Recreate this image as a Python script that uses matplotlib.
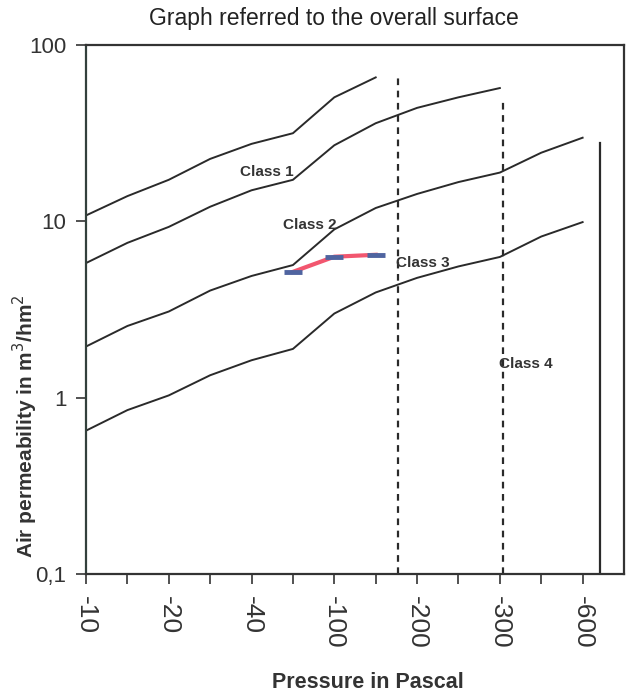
import matplotlib
matplotlib.use("Agg")
import matplotlib.pyplot as plt

plt.rcParams['font.family'] = ['Liberation Sans', 'DejaVu Sans']

# x positions are evenly spaced categories (pressure steps in Pa)
pressures = ['-10', '-15', '-20', '-30', '-40', '-50', '-100', '-150',
             '-200', '-250', '-300', '-450', '-600']
tick_labels = ['-10', '-20', '-40', '-100', '-200', '-300', '-600']

# class boundary lines, m3/hm2
class1 = [10.8, 13.9, 17.2, 22.6, 27.5, 31.6, 50.5, 65.5]
class2 = [5.8, 7.55, 9.3, 12.1, 15.0, 17.2, 27.0, 36.0, 44.0, 50.5, 57.0]
class3 = [1.95, 2.55, 3.08, 4.05, 4.9, 5.65, 9.0, 11.9, 14.3, 16.7, 18.9, 24.5, 29.8]
class4 = [0.65, 0.85, 1.03, 1.34, 1.63, 1.89, 3.0, 3.95, 4.78, 5.55, 6.28, 8.2, 9.9]

# measured sample (indices 5..7)
sample_idx = [5, 6, 7]
sample_val = [5.17, 6.3, 6.46]

# vertical limit lines: (x index, top value, style)
limits = [(7.53, 65, '--'), (10.08, 48.8, '--'), (12.41, 27.8, '-')]

class_labels = ['Class 1', 'Class 2', 'Class 3', 'Class 4']
label_pos = [(4.37, 19.1), (5.4, 9.55), (8.15, 5.82), (10.63, 1.56)]

fig = plt.figure(figsize=(6.27, 6.95), dpi=100)
ax = fig.add_axes([86/627, 121/695, 538/627, 529/695])

lc = '#2a2a2a'
for vals in [class1, class2, class3, class4]:
    ax.plot(range(len(vals)), vals, color=lc, lw=1.4)

for x, top, ls in limits:
    ax.plot([x, x], [0.1, top], color=lc, lw=1.6, ls=ls,
            dashes=(3, 2.5) if ls == '--' else (None, None))

ax.plot(sample_idx, sample_val, color='#f2566f', lw=3, zorder=3)
ax.plot(sample_idx, sample_val, ls='none', marker='_', ms=13, mew=3.5,
        color='#4f64a0', zorder=4)

for txt, (x, y) in zip(class_labels, label_pos):
    ax.text(x, y, txt, ha='center', va='center', fontsize=11,
            fontweight='bold', color='#333333')

ax.set_yscale('log')
ax.set_ylim(0.1, 100)
ax.set_xlim(0, 13)
ax.set_yticks([0.1, 1, 10, 100])
ax.set_yticklabels(['0,1', '1', '10', '100'])
ax.minorticks_off()
ax.set_xticks(range(len(pressures)))
ax.set_xticklabels([p if p in tick_labels else '' for p in pressures],
                   rotation=-90)
ax.tick_params(axis='both', length=7, width=1.2, colors='#333333')
ax.tick_params(axis='y', labelsize=16, pad=7)
ax.tick_params(axis='x', labelsize=19, pad=9)
for s in ax.spines.values():
    s.set_linewidth(1.6)
    s.set_color('#333333')
ax.spines['left'].set_color('#33403c')

ax.set_ylabel('Air permeability in m$^3$/hm$^2$', fontsize=15,
              fontweight='bold', color='#333333')
ax.yaxis.set_label_coords(-0.085, 0.28)
fig.text(368/627, 1 - 683/695, 'Pressure in Pascal', ha='center', va='center',
         fontsize=15.5, fontweight='bold', color='#333333')
fig.text(334/627, 1 - 18/695, 'Graph referred to the overall surface',
         ha='center', va='center', fontsize=16.5, color='#222222')

fig.savefig('out.png', dpi=100)
